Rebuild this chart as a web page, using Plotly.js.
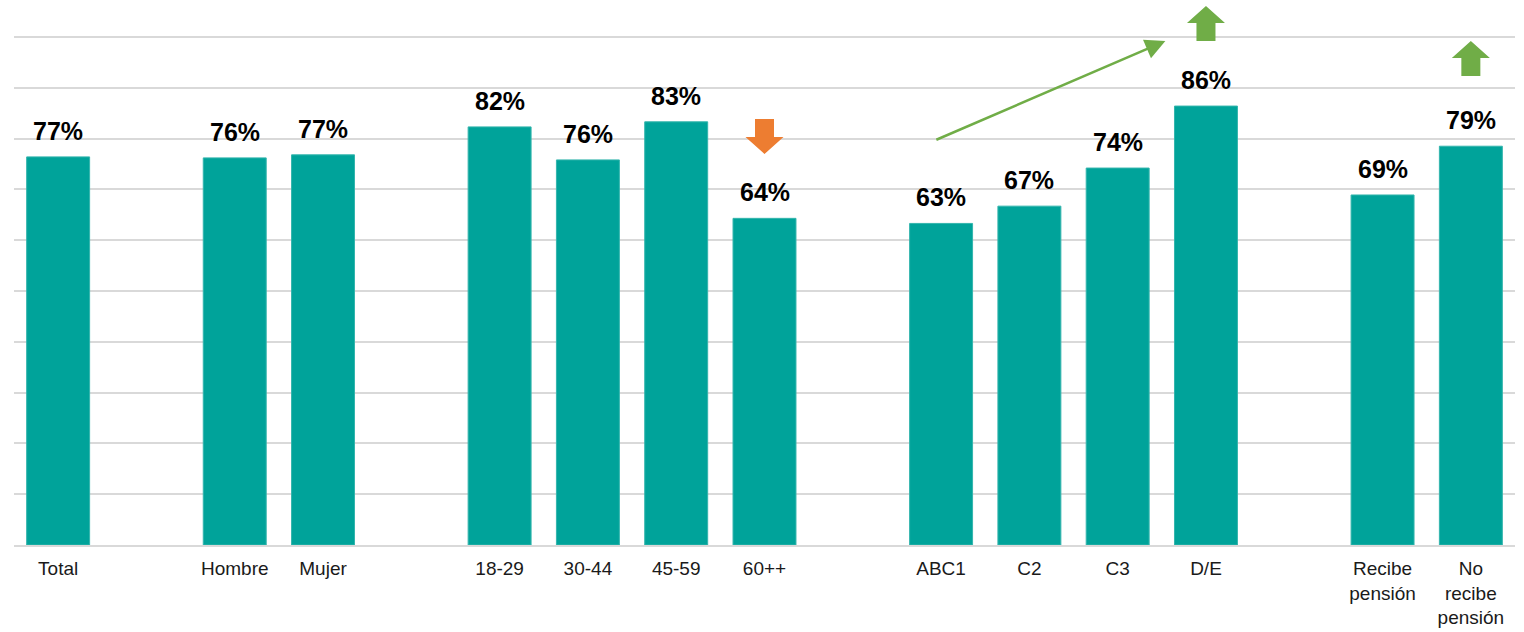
<!DOCTYPE html>
<html>
<head>
<meta charset="utf-8">
<script src="https://cdn.plot.ly/plotly-3.0.1.min.js"></script>
<style>html,body{margin:0;padding:0;background:#fff}#chart{width:1524px;height:632px}</style>
</head>
<body>
<div id="chart"></div>
<script>
const categories = ['Total',' ','Hombre','Mujer','  ','18-29','30-44','45-59','60++','   ','ABC1','C2','C3','D/E','    ','Recibe<br>pensión','No<br>recibe<br>pensión'];
const values = [76.4,null,76.2,76.8,null,82.3,75.8,83.3,64.3,null,63.3,66.7,74.2,86.4,null,68.9,78.5];
const valueLabels = ['77%',null,'76%','77%',null,'82%','76%','83%','64%',null,'63%','67%','74%','86%',null,'69%','79%'];

const teal = '#00a39a', green = '#70ad47', orange = '#ed7d31';
const upPath = (top) => `M0,${top} L19,${top-17} L9.5,${top-17} L9.5,${top-35} L-9.5,${top-35} L-9.5,${top-17} L-19,${top-17} Z`;
const downPath = (top) => `M-9.5,${top} L9.5,${top} L9.5,${top-18} L19,${top-18} L0,${top-35} L-19,${top-18} L-9.5,${top-18} Z`;
const marker = (xIdx, path, color) => ({
  type:'shape', xref:'x', yref:'y', xsizemode:'pixel', ysizemode:'pixel',
  xanchor:xIdx, yanchor:100, path:path, fillcolor:color, line:{width:0}, layer:'above'
});

const annotations = categories.map((c,i)=> values[i]==null ? null : ({
  x:i, y:values[i], xref:'x', yref:'y', text:'<b>'+valueLabels[i]+'</b>', showarrow:false,
  yanchor:'middle', yshift:26, font:{family:'Liberation Sans, Arial, sans-serif', size:25, color:'#000'}
})).filter(Boolean);
annotations.push({
  xref:'x', yref:'y', x:12.54, y:99.2, axref:'pixel', ayref:'pixel', ax:-232, ay:100,
  text:' ', showarrow:true, arrowhead:2, arrowsize:1.6, arrowwidth:2.5, arrowcolor:green, standoff:0, startstandoff:0
});

Plotly.newPlot('chart',[{
  type:'bar', x:categories, y:values, width:0.713,
  marker:{color:teal, line:{color:'#33b5ad', width:1}}, hoverinfo:'skip'
}],{
  width:1524, height:632, showlegend:false,
  paper_bgcolor:'#fff', plot_bgcolor:'#fff',
  margin:{l:14,r:9,t:0,b:87,pad:0},
  xaxis:{type:'category', categoryorder:'array', categoryarray:categories, range:[-0.5,16.5],
    showgrid:false, zeroline:false, showline:true, linecolor:'#d9d9d9', linewidth:2, ticks:'', tickangle:0,
    ticklabelstandoff:5, tickfont:{family:'Liberation Sans, Arial, sans-serif', size:19, color:'#1a1a1a'}},
  yaxis:{range:[0,107.28], tick0:0, dtick:10, showticklabels:false, showgrid:true, gridcolor:'#d9d9d9', gridwidth:2, zeroline:false, ticks:''},
  annotations:annotations,
  shapes:[
    marker(13, upPath(31), green),
    marker(16, upPath(-4), green),
    marker(8, downPath(-82), orange)
  ]
},{staticPlot:true,displayModeBar:false});
</script>
</body>
</html>
